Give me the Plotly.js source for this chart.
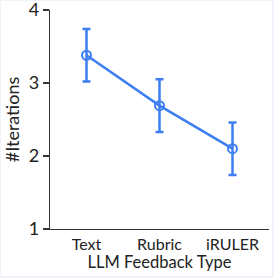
<!DOCTYPE html>
<html><head><meta charset="utf-8">
<script src="https://cdn.plot.ly/plotly-3.0.1.min.js"></script>
<style>
html,body{margin:0;padding:0;background:#eef4fa;width:274px;height:278px;overflow:hidden;}
#frame{position:absolute;left:1px;top:1px;width:271px;height:275px;background:#fff;overflow:hidden;}
#chart{position:absolute;left:0;top:-20px;width:271px;height:295px;}
</style></head>
<body><div id="frame"><div id="chart"></div></div>
<script>
const categories = ["Text", "Rubric", "iRULER"];
const meanIterations = [3.38, 2.69, 2.10];
const errorIterations = [0.36, 0.36, 0.36];
const yTicks = [1, 2, 3, 4];

const blue = "#3d7ff2";
const trace = {
  x: categories,
  y: meanIterations,
  type: "scatter",
  mode: "lines+markers",
  line: {color: blue, width: 2.5},
  marker: {symbol: "circle-open", size: 9, color: blue, line: {width: 2, color: blue}},
  error_y: {type: "data", array: errorIterations, visible: true, color: blue, thickness: 2.5, width: 4}
};
const fam = "Lato, Noto Sans, sans-serif";
const layout = {
  width: 271, height: 295,
  margin: {l: 49, r: 3, t: 29, b: 47},
  paper_bgcolor: "#fff", plot_bgcolor: "#fff",
  showlegend: false,
  font: {family: fam, color: "#222"},
  xaxis: {
    type: "category", range: [-0.5, 2.5],
    showline: true, linecolor: "#333", linewidth: 1.3,
    ticks: "", showgrid: false, zeroline: false,
    tickfont: {size: 16, family: fam, color: "#222"},
    title: {text: "LLM Feedback Type", font: {size: 16.5, family: fam, color: "#222"}, standoff: 4}
  },
  yaxis: {
    range: [1, 4], tickvals: yTicks,
    showline: true, linecolor: "#333", linewidth: 1.3,
    ticks: "outside", ticklen: 6, tickcolor: "#333", tickwidth: 1.3,
    showgrid: false, zeroline: false,
    tickfont: {size: 18, family: fam, color: "#222"},
    title: {text: "#Iterations", font: {size: 18, family: fam, color: "#222"}, standoff: 10}
  }
};
Plotly.newPlot("chart", [trace], layout, {displayModeBar: false, staticPlot: true});
</script></body></html>
